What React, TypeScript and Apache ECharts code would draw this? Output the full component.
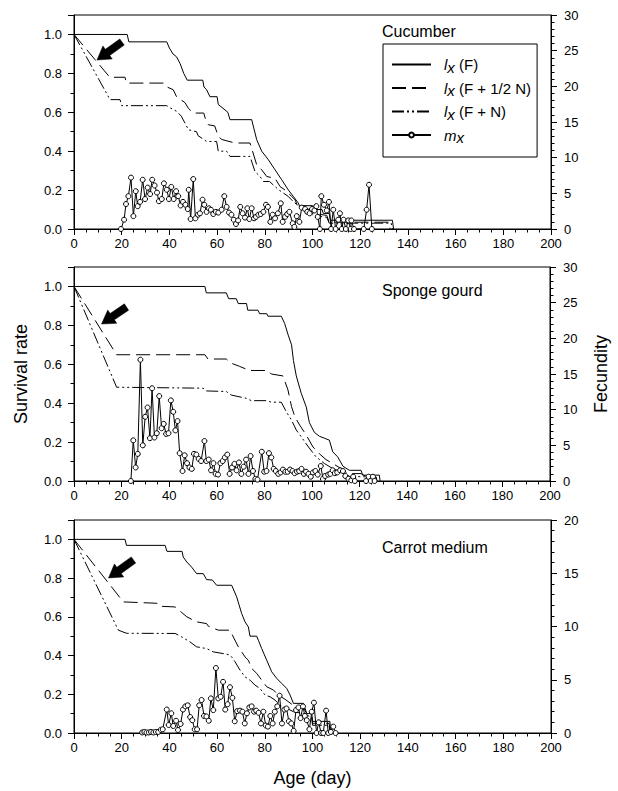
import React, { useEffect, useRef } from 'react';
import * as echarts from 'echarts';

// ---------- data ----------
const ageTicks = { min: 0, max: 200, step: 20 };
const seriesNames = ['lx(F)', 'lx(F+1/2N)', 'lx(F+N)', 'mx'];
const panelTitles = ['Cucumber', 'Sponge gourd', 'Carrot medium'];
const fecundityMax = [30, 30, 20];

// Cucumber
const cucLxF = [[0,1],[22.3,1],[23,0.962],[38.9,0.962],[40,0.93],[41.5,0.9],[43,0.885],[44.5,0.85],[46,0.8],[47.5,0.765],[54,0.765],[54.5,0.73],[55.6,0.716],[57,0.68],[60,0.68],[60.5,0.64],[64.5,0.6],[65.4,0.562],[74.5,0.562],[76.6,0.459],[78.7,0.4],[81.5,0.356],[84.3,0.304],[87.1,0.253],[89.9,0.2],[92,0.167],[94,0.134],[94.5,0.12],[100,0.12],[100.5,0.1],[104,0.1],[104.5,0.08],[107,0.08],[107.5,0.045],[133.5,0.045],[134,0]];
const cucLxHalf = [[0,1],[15,0.78],[21.4,0.78],[22,0.75],[37.5,0.75],[39,0.73],[41.6,0.716],[43,0.68],[46.5,0.65],[48,0.62],[50,0.596],[54.4,0.596],[55,0.57],[56.3,0.536],[59,0.53],[60.5,0.476],[62,0.46],[67.5,0.442],[73.8,0.442],[76.6,0.33],[78.7,0.304],[80.8,0.27],[84.3,0.26],[86.4,0.218],[88.5,0.2],[91.3,0.167],[92.7,0.15],[94,0.11],[99,0.1],[100,0.08],[106,0.07],[107,0.035],[132,0.035],[132.5,0]];
const cucLxN = [[0,1],[15.1,0.665],[19.3,0.665],[20,0.634],[38.9,0.634],[40,0.625],[43,0.605],[45,0.58],[48,0.51],[51.4,0.5],[52,0.48],[55.6,0.45],[59.8,0.45],[60.5,0.4],[64,0.4],[65.4,0.373],[73.8,0.373],[75.9,0.295],[78,0.27],[79.4,0.244],[82,0.244],[84.3,0.218],[86,0.2],[89.9,0.167],[92,0.14],[94,0.12],[99,0.09],[100,0.07],[106,0.06],[107,0.03],[133,0.03],[133.5,0]];
const cucMx = [[19.7,0],[21,1.3],[21.8,3.5],[22.8,4.6],[23.9,7.2],[24.9,1.8],[25.9,5.3],[26.7,3.2],[27.7,3.8],[28.8,6.9],[29.8,4.2],[30.9,5.8],[31.9,4.9],[32.8,6.9],[33.8,6.1],[34.8,5.1],[35.6,3.9],[36.8,4.2],[37.7,6.4],[38.9,5.5],[39.8,4.2],[40.8,5.9],[41.8,4.2],[42.8,5.3],[43.7,4.6],[44.7,3.3],[45.7,3.8],[46.7,3.4],[47.7,2.8],[48.1,5.5],[48.9,1.4],[50,7.0],[50.9,1.5],[52,2.0],[52.8,2.2],[53.9,4.1],[54.6,3.4],[55.6,2.4],[56.6,2.9],[57.4,2.7],[58.4,2.1],[59.5,2.4],[60.5,2.3],[61.9,2.7],[63,4.6],[64,3.1],[65,2.3],[66,2.0],[67,1.3],[67.9,0.7],[68.8,1.2],[69.7,3.1],[70.7,2.2],[71.7,1.6],[72.7,2.9],[73.5,1.4],[74.5,2.9],[75.5,1.5],[76.3,1.7],[77.3,2.0],[78.3,2.1],[79.4,2.4],[80.5,3.4],[81.3,3.1],[82.3,1.0],[83.3,2.0],[84.3,1.5],[85.5,2.2],[86.7,3.6],[87.5,1.0],[88.5,1.7],[89.4,2.1],[90.3,2.4],[91.7,0.8],[92.4,0.3],[93.4,1.8],[94.5,1.0],[95.5,3.0],[96.9,2.8],[97.8,2.4],[98.8,2.2],[99.8,2.8],[100.8,2.6],[101.6,3.2],[102.2,1.7],[103.1,0],[103.7,4.6],[104.8,3.4],[106,2.6],[106.9,3.8],[107.8,0],[108.7,2.7],[109.7,0],[110.8,1.3],[111.5,2.2],[112.3,0],[113,1.3],[114,0],[115,1.2],[116,0],[116.3,1.2],[117.4,0],[121.5,0],[122.7,2.7],[123.7,6.2],[124.9,0]];

// Sponge gourd
const spgLxF = [[0,1],[55,1],[55.6,0.967],[64,0.967],[65,0.937],[68.2,0.937],[69,0.912],[72.5,0.912],[73,0.878],[77.3,0.878],[78,0.86],[81,0.86],[81.5,0.847],[87.1,0.847],[88.5,0.81],[90,0.75],[91.4,0.7],[92.2,0.62],[93.4,0.54],[95.5,0.45],[97.6,0.38],[98.9,0.3],[101,0.25],[103.1,0.23],[105.2,0.22],[107.3,0.21],[108.7,0.15],[110.8,0.124],[113,0.076],[115.7,0.055],[120.6,0.055],[121.3,0.03],[128.3,0.03],[128.6,0]];
const spgLxHalf = [[0,1],[17.9,0.649],[55,0.649],[56.3,0.627],[64,0.627],[66,0.606],[69.6,0.589],[73.8,0.568],[81.5,0.568],[82.9,0.55],[87.8,0.54],[89.9,0.468],[91.4,0.382],[92.8,0.33],[94.8,0.288],[97.6,0.236],[100.4,0.175],[103.1,0.14],[105.9,0.11],[108.7,0.09],[112.2,0.064],[115,0.038],[120.6,0.038],[123,0.02],[127,0.02],[127.3,0]];
const spgLxN = [[0,1],[17.9,0.482],[54.2,0.477],[55.6,0.463],[64,0.46],[66,0.442],[72.4,0.425],[74.5,0.413],[80.8,0.413],[82.9,0.405],[87.1,0.405],[89.2,0.356],[91.4,0.313],[93.4,0.262],[95.5,0.227],[98.2,0.18],[101.7,0.124],[105.2,0.09],[108.7,0.064],[113,0.041],[115.7,0.024],[125.6,0.02],[126,0]];
const spgMx = [[23.9,0],[24.9,5.7],[25.9,1.9],[26.8,3.8],[27.9,17.0],[28.9,5.0],[29.9,9.0],[30.9,10.3],[31.9,6.0],[32.8,13.0],[33.8,6.1],[34.8,6.7],[35.8,11.9],[36.8,7.4],[37.7,8.0],[38.7,6.6],[39.7,6.7],[40.7,11.3],[41.7,9.7],[42.6,7.1],[43.5,8.4],[44.4,3.9],[45.6,1.4],[46.5,3.6],[47.5,2.5],[48.5,1.9],[49.5,1.7],[50.4,3.8],[51.4,3.7],[52.4,3.1],[53.4,2.8],[54.8,5.6],[55.6,2.8],[56.6,3.0],[57.6,1.5],[58.6,2.5],[59.5,1.0],[60.5,0.9],[61.5,2.5],[62.5,2.8],[63.4,3.3],[64.4,3.7],[65.4,1.0],[66.4,1.9],[67.4,2.4],[68.3,1.5],[69.3,2.6],[70.3,1.0],[71.3,2.0],[72.3,3.0],[73.3,1.0],[74.2,3.5],[75.2,1.4],[76.2,0.3],[77.1,0.2],[78.9,4.1],[79.9,1.3],[80.9,1.4],[81.9,3.9],[82.9,3.3],[83.9,1.7],[84.8,1.4],[85.8,1.0],[86.8,1.2],[87.8,1.6],[88.8,1.3],[89.8,1.3],[90.8,1.6],[91.8,1.4],[92.7,1.1],[93.7,1.3],[94.6,1.4],[95.6,1.7],[96.6,1.0],[97.5,1.3],[98.5,1.0],[99.5,0.6],[100.4,1.2],[101.4,1.4],[102.4,0.9],[103.7,2.1],[104.6,0.3],[105.5,0.7],[106.8,0.9],[107.7,1.0],[108.7,1.5],[109.6,1.1],[110.6,1.2],[111.8,1.5],[113,1.4],[114,0.7],[115.3,0.3],[116.5,0.1],[117.3,0.6],[118,0],[122.7,0],[123.8,0.6],[124.7,0],[125.6,0.6],[126.3,0]];

// Carrot medium
const carLxF = [[0,1],[21.4,1],[22,0.969],[38.2,0.969],[39,0.938],[45.3,0.938],[45.8,0.909],[47.3,0.883],[49.3,0.857],[51.4,0.823],[54.2,0.823],[55.6,0.792],[58,0.79],[59.8,0.763],[66.1,0.763],[68.2,0.703],[70.3,0.617],[71.7,0.574],[73.1,0.548],[73.8,0.5],[76.6,0.5],[77.3,0.479],[78.7,0.436],[80.8,0.376],[82.9,0.316],[85,0.282],[87.1,0.256],[89.2,0.23],[90.6,0.196],[92,0.153],[96.2,0.153],[97.6,0.1],[99.7,0.1],[100,0.06],[107.3,0.06],[107.6,0]];
const carLxHalf = [[0,1],[20.7,0.677],[34.7,0.67],[35.5,0.655],[42.4,0.651],[44.9,0.625],[47.3,0.6],[51.4,0.574],[55.6,0.565],[56.3,0.552],[60.5,0.531],[65.4,0.531],[66.8,0.496],[68.9,0.445],[71.7,0.393],[73.1,0.376],[74.5,0.333],[76.6,0.308],[78.7,0.273],[80.8,0.239],[83.6,0.222],[85.7,0.196],[88.5,0.174],[92.7,0.136],[96.2,0.13],[97.6,0.1],[99.7,0.09],[100,0.05],[107,0.05],[107.3,0]];
const carLxN = [[0,1],[18.6,0.531],[22,0.515],[42.4,0.514],[45.2,0.496],[48.7,0.47],[51.4,0.445],[55.6,0.436],[58.4,0.419],[64,0.407],[65.4,0.402],[66.1,0.393],[67.5,0.368],[69.6,0.325],[71.7,0.29],[73.8,0.273],[75.9,0.247],[78,0.23],[80.1,0.196],[82.2,0.187],[84.3,0.17],[86.4,0.144],[89.2,0.127],[92,0.11],[96.2,0.1],[99.7,0.08],[100,0.04],[107,0.04],[107.3,0]];
const carMx = [[28.6,0.05],[29.5,0.1],[30.4,0.05],[31.4,0.05],[32.3,0.1],[33.3,0.05],[34.3,0.1],[35.3,0.1],[36.4,0.3],[37.2,0.35],[38.9,2.2],[39.7,0.75],[40.8,1.85],[41.6,0.66],[42.8,1.15],[43.6,0.28],[44.7,0.85],[45.7,2.2],[46.7,2.5],[47.7,2.6],[48.7,1.5],[49.6,1.2],[50.6,0.35],[51.6,0.35],[52.5,2.6],[53.5,3.1],[54.5,1.6],[55.5,1.55],[56.5,1.15],[57.4,3.25],[58.4,2.15],[59.5,6.1],[60.5,3.25],[61.5,3.4],[62.5,4.8],[63.4,2.2],[64.4,2.7],[65.4,4.3],[66.4,3.3],[67.4,1.1],[68.4,2.05],[69.6,2.1],[70.6,2.0],[71.6,0.9],[72.5,1.85],[73.5,2.4],[74.5,2.5],[75.5,2.0],[76.4,2.1],[77.4,1.9],[78.4,0.9],[79.4,2.0],[80.4,0.7],[81.3,0.6],[82.3,1.6],[83.3,0.9],[84.2,2.0],[85.2,2.5],[86.2,3.5],[87.2,0.9],[88.2,2.2],[89.1,2.3],[90.1,1.1],[91.1,0.9],[92.1,0.2],[93.1,2.15],[94.1,2.4],[95,1.4],[96,2.5],[96.8,1.6],[97.6,1.2],[98.7,0.35],[99.7,2.0],[100.6,2.85],[101.7,0],[102.6,1.0],[103.6,0],[104.5,0],[105.7,2.1],[106.6,0],[107.7,0.1],[108.7,0.6],[109.7,0]];

const panelData = [
  [cucLxF, cucLxHalf, cucLxN, cucMx],
  [spgLxF, spgLxHalf, spgLxN, spgMx],
  [carLxF, carLxHalf, carLxN, carMx],
];

// ---------- layout / style ----------
const FONT = '"Liberation Sans", Arial, Helvetica, sans-serif';
const GRID_LEFT = 74;
const GRID_WIDTH = 477;
const panelBoxes = [
  { top: 15, height: 214, titleTop: 23, arrow: [97, 60, 122, 42] },
  { top: 267, height: 214, titleTop: 282, arrow: [101.5, 324, 126.5, 307] },
  { top: 520, height: 213, titleTop: 539, arrow: [108.5, 578, 133.5, 560] },
];
const lineTypes: any[] = ['solid', [14, 6], [12, 3, 2, 3, 2, 3]];

function arrowPoints(tx: number, ty: number, bx: number, by: number) {
  const dx = bx - tx, dy = by - ty;
  const L = Math.hypot(dx, dy);
  const ux = dx / L, uy = dy / L;
  const nx = -uy, ny = ux;
  const hl = 13, hw = 8, sw = 3.8;
  return [
    [tx, ty],
    [tx + ux * hl + nx * hw, ty + uy * hl + ny * hw],
    [tx + ux * hl + nx * sw, ty + uy * hl + ny * sw],
    [bx + nx * sw, by + ny * sw],
    [bx - nx * sw, by - ny * sw],
    [tx + ux * hl - nx * sw, ty + uy * hl - ny * sw],
    [tx + ux * hl - nx * hw, ty + uy * hl - ny * hw],
  ];
}

function buildOption() {
  const black = '#000';
  const grid: any[] = [];
  const xAxis: any[] = [];
  const yAxis: any[] = [];
  const series: any[] = [];
  const title: any[] = [];
  const graphic: any[] = [];

  panelBoxes.forEach((b, i) => {
    grid.push({
      left: GRID_LEFT, top: b.top, width: GRID_WIDTH, height: b.height,
      show: true, borderColor: black, borderWidth: 1, backgroundColor: 'transparent',
    });
    xAxis.push({
      type: 'value', gridIndex: i, min: ageTicks.min, max: ageTicks.max, interval: ageTicks.step,
      axisLine: { show: true, lineStyle: { color: black, width: 1 } },
      axisTick: { show: true, length: 6, lineStyle: { color: black } },
      minorTick: { show: true, splitNumber: 4, length: 3.5, lineStyle: { color: black } },
      splitLine: { show: false },
      axisLabel: { color: black, fontSize: 13, margin: 8, fontFamily: FONT },
      ...(i === 2 ? {
        name: 'Age (day)', nameLocation: 'middle', nameGap: 36,
        nameTextStyle: { color: black, fontSize: 18, fontFamily: FONT },
      } : {}),
    });
    yAxis.push({
      type: 'value', gridIndex: i, position: 'left', min: 0, max: 1.1, interval: 0.2,
      axisLine: { show: true, lineStyle: { color: black, width: 1 } },
      axisTick: { show: true, length: 6, lineStyle: { color: black } },
      minorTick: { show: true, splitNumber: 2, length: 3.5, lineStyle: { color: black } },
      splitLine: { show: false },
      axisLabel: {
        color: black, fontSize: 13, margin: 12, fontFamily: FONT, showMaxLabel: false,
        formatter: (v: number) => v.toFixed(1),
      },
      ...(i === 1 ? {
        name: 'Survival rate', nameLocation: 'middle', nameGap: 44,
        nameTextStyle: { color: black, fontSize: 18, fontFamily: FONT },
      } : {}),
    });
    yAxis.push({
      type: 'value', gridIndex: i, position: 'right', min: 0, max: fecundityMax[i], interval: 5,
      axisLine: { show: true, lineStyle: { color: black, width: 1 } },
      axisTick: { show: true, length: 6, lineStyle: { color: black } },
      minorTick: { show: true, splitNumber: 5, length: 3.5, lineStyle: { color: black } },
      splitLine: { show: false },
      axisLabel: { color: black, fontSize: 13, margin: 13, fontFamily: FONT },
      ...(i === 1 ? {
        name: 'Fecundity', nameLocation: 'middle', nameGap: 42,
        nameTextStyle: { color: black, fontSize: 18, fontFamily: FONT },
      } : {}),
    });

    const d = panelData[i];
    for (let s = 0; s < 3; s++) {
      series.push({
        type: 'line', name: seriesNames[s], xAxisIndex: i, yAxisIndex: i * 2,
        data: d[s], showSymbol: false, symbol: 'none',
        lineStyle: { color: black, width: 1, type: lineTypes[s] },
        itemStyle: { color: black },
        silent: true, z: 2,
      });
    }
    series.push({
      type: 'line', name: seriesNames[3], xAxisIndex: i, yAxisIndex: i * 2 + 1,
      data: d[3], symbol: 'circle', symbolSize: 5, showAllSymbol: true,
      lineStyle: { color: black, width: 1 },
      itemStyle: { color: '#fff', borderColor: black, borderWidth: 1 },
      silent: true, z: 3,
    });

    title.push({
      text: panelTitles[i], left: 382, top: b.titleTop, padding: 0,
      textStyle: { fontSize: 16, fontWeight: 'normal', color: black, fontFamily: FONT },
    });
    const a = b.arrow;
    graphic.push({
      type: 'polygon', silent: true, z: 100,
      shape: { points: arrowPoints(a[0], a[1], a[2], a[3]) },
      style: { fill: black, stroke: black, lineWidth: 0.5 },
    });
  });

  const legendLabels: Record<string, string> = {
    'lx(F)': '{g|}{i|l}{s|x}{t| (F)}',
    'lx(F+1/2N)': '{g|}{i|l}{s|x}{t| (F + 1/2 N)}',
    'lx(F+N)': '{g|}{i|l}{s|x}{t| (F + N)}',
    'mx': '{g|}{i|m}{s|x}',
  };

  return {
    animation: false,
    backgroundColor: '#fff',
    textStyle: { fontFamily: FONT },
    title,
    grid,
    xAxis,
    yAxis,
    series,
    graphic,
    legend: {
      data: [
        { name: seriesNames[0], itemStyle: { opacity: 0 } },
        { name: seriesNames[1], itemStyle: { opacity: 0 } },
        { name: seriesNames[2], itemStyle: { opacity: 0 } },
        { name: seriesNames[3] },
      ],
      orient: 'vertical',
      left: 383, top: 44,
      padding: [13, 6, 12, 8],
      itemWidth: 39, itemHeight: 6, itemGap: 6,
      borderColor: black, borderWidth: 1,
      selectedMode: false,
      formatter: (n: string) => legendLabels[n],
      textStyle: {
        color: black, fontSize: 15, fontFamily: FONT,
        rich: {
          g: { width: 8, lineHeight: 20, fontSize: 15 },
          i: { fontStyle: 'italic', fontSize: 15, fontFamily: FONT, lineHeight: 15, verticalAlign: 'middle' },
          s: { fontStyle: 'italic', fontSize: 15, fontFamily: FONT, lineHeight: 10, verticalAlign: 'bottom' },
          t: { fontSize: 15, fontFamily: FONT, lineHeight: 15, verticalAlign: 'middle' },
        },
      },
    },
  };
}

export default function App() {
  const ref = useRef<HTMLDivElement>(null);
  useEffect(() => {
    if (!ref.current) return;
    const chart = echarts.init(ref.current, null, { renderer: 'svg' });
    chart.setOption(buildOption() as any);
    return () => chart.dispose();
  }, []);
  return (
    <div
      ref={ref}
      style={{ position: 'absolute', left: 0, top: 0, width: 618, height: 791, background: '#fff' }}
    />
  );
}
